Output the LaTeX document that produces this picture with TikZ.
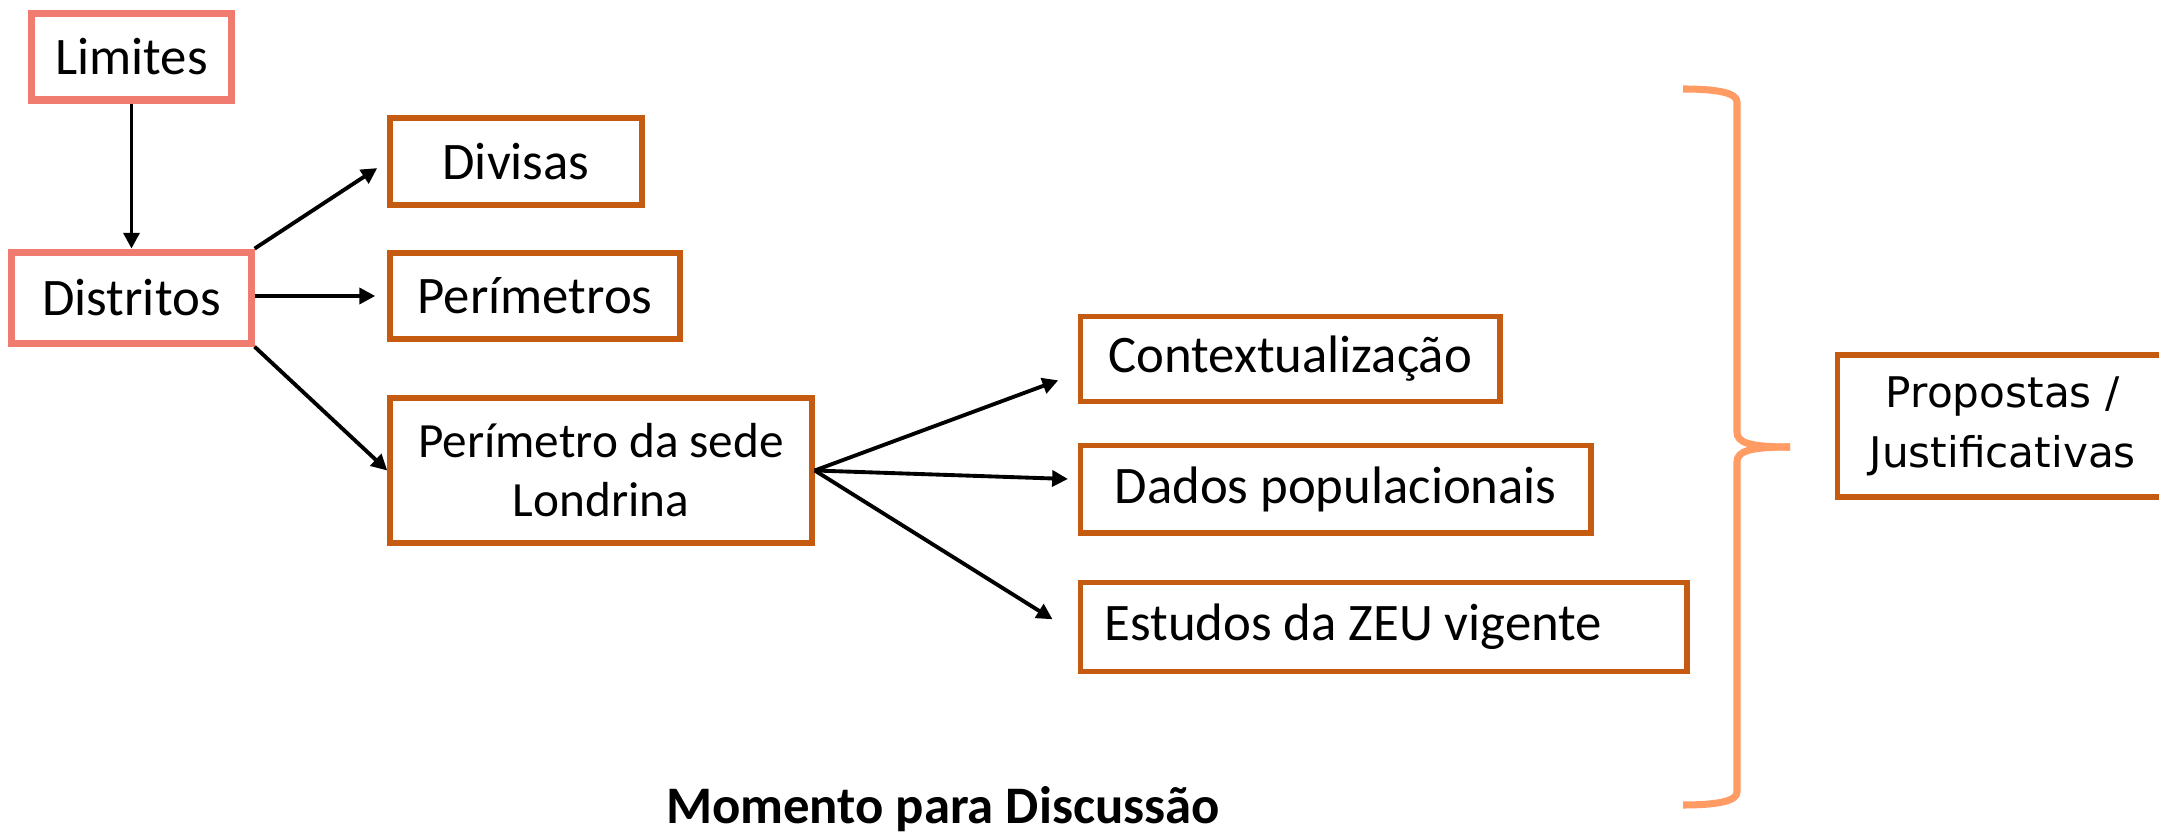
\documentclass[tikz,border=0pt]{standalone}
\usepackage{fontspec}
\setmainfont{Carlito}
\newfontfamily\propfont{DejaVu Sans}
\usetikzlibrary{positioning,arrows.meta}

\definecolor{salmon}{HTML}{F07B6F}
\definecolor{rust}{HTML}{C55A11}
\definecolor{peach}{HTML}{FF9B63}

\tikzset{
  redbox/.style={draw=salmon, line width=2pt, inner sep=0pt, font=\fontsize{15}{18}\selectfont},
  orbox/.style={draw=rust, line width=1.5pt, inner sep=0pt, font=\fontsize{15}{18}\selectfont},
  seta/.style={->, line width=1.1pt},
  chave/.style={draw=peach, line width=2pt}
}

\begin{document}
\begin{tikzpicture}[x=0.01cm, y=-0.01cm, >={Triangle[length=4.5pt,width=4.5pt]}]
\useasboundingbox (0,0) rectangle (2159,834);

          \node[redbox, minimum width=1.99cm, minimum height=0.86cm] (lim) at (131.5,57) {Limites};
          \node[redbox, minimum width=2.39cm, minimum height=0.91cm] (dis) [below=1.45cm of lim] {Distritos};

          \node[orbox, minimum width=2.52cm, minimum height=0.87cm] (div) at (516,161.5) {Divisas};
          \node[orbox, minimum width=2.90cm, minimum height=0.86cm] (per) at (535,296) {Perímetros};
          \node[orbox, minimum width=4.22cm, minimum height=1.45cm, align=center,
                font=\fontsize{14}{16.8}\selectfont] (sede) at (601,470.5) {Perímetro da sede\\Londrina};

          \node[orbox, minimum width=4.19cm, minimum height=0.85cm, anchor=west] (ctx) at (1078,359) {Contextualização};
          \node[orbox, minimum width=5.10cm, minimum height=0.87cm] (dad) [below=0.39cm of ctx.south west, anchor=north west] {Dados populacionais};
          \node[orbox, text width=5.58cm, inner xsep=0.24cm, align=flush left, minimum height=0.89cm] (est) [below=0.44cm of dad.south west, anchor=north west] {Estudos da ZEU vigente};

          \node[orbox, minimum width=3.3cm, minimum height=1.42cm, anchor=west, align=center,
                font=\propfont\fontsize{12}{17}\selectfont] (prop) at (1835,426) {Propostas /\\Justificativas};

          \node[font=\bfseries\fontsize{15}{18}\selectfont, anchor=base] (titulo) at (943,824) {Momento para Discussão};

          \draw[seta] (lim) -- (dis);
          \draw[seta, shorten >=0.12cm] (dis.north east) -- (div.west);
          \draw[seta, shorten >=0.12cm] (dis.east |- per.west) -- (per.west);
          \draw[seta] (dis.south east) -- (sede.west);

          \draw[seta, shorten >=0.21cm] (sede.east) -- ([yshift=-0.14cm]ctx.west);
          \draw[seta, shorten >=0.10cm] (sede.east) -- ([yshift=0.1cm]dad.west);
          \draw[seta, shorten >=0.30cm] (sede.east) -- ([yshift=-0.085cm]est.west);

          % chave
          \draw[chave] (1683,89) .. controls (1718,89) and (1737,93) .. (1737,102) -- (1737,432)
                .. controls (1737,443) and (1750,447) .. (1790,447);
          \draw[chave] (1683,805) .. controls (1718,805) and (1737,801) .. (1737,792) -- (1737,462)
                .. controls (1737,451) and (1750,447) .. (1790,447);
\end{tikzpicture}
\end{document}
